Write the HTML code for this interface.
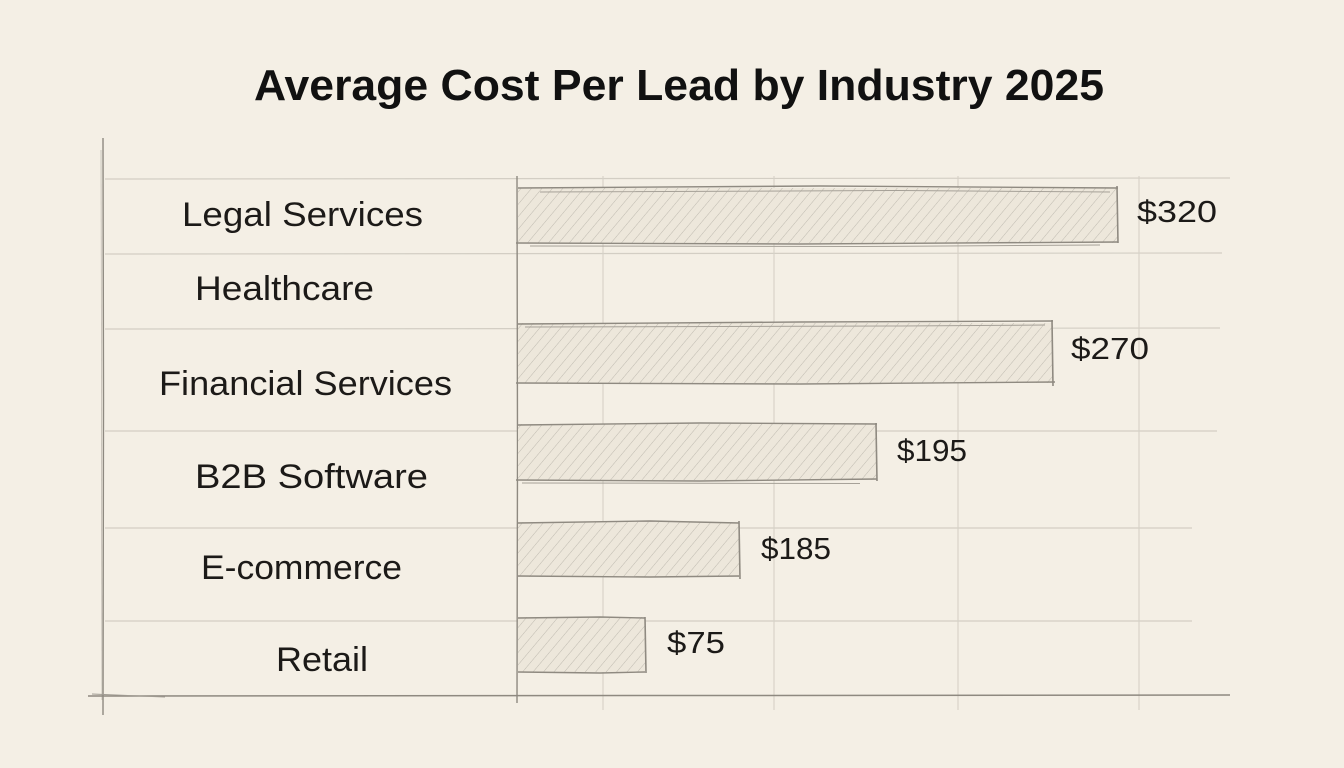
<!DOCTYPE html>
<html>
<head>
<meta charset="utf-8">
<style>
html,body{margin:0;padding:0;background:#f4efe5;}
svg{display:block;}
</style>
</head>
<body>
<svg width="1344" height="768" viewBox="0 0 1344 768" xmlns="http://www.w3.org/2000/svg">
<defs>
<pattern id="hatch" patternUnits="userSpaceOnUse" width="8" height="8" patternTransform="rotate(40)">
<line x1="0" y1="0" x2="0" y2="8" stroke="#b9b4aa" stroke-width="0.9"/>
</pattern>
</defs>
<rect x="0" y="0" width="1344" height="768" fill="#f4efe5"/>

<!-- title -->
<text x="254" y="100" font-family="Liberation Sans, sans-serif" font-weight="bold" font-size="44" fill="#111" textLength="850" lengthAdjust="spacingAndGlyphs">Average Cost Per Lead by Industry 2025</text>

<!-- horizontal gridlines -->
<g stroke="#d3cec4" stroke-width="1.2" fill="none">
<line x1="105" y1="179" x2="1230" y2="178"/>
<line x1="105" y1="254" x2="1222" y2="253"/>
<line x1="105" y1="329" x2="1220" y2="328"/>
<line x1="105" y1="431" x2="1217" y2="431"/>
<line x1="105" y1="528" x2="1192" y2="528"/>
<line x1="105" y1="621" x2="1192" y2="621"/>
</g>
<!-- vertical gridlines -->
<g stroke="#d6d1c7" stroke-width="1.1" fill="none">
<line x1="603" y1="176" x2="603" y2="710"/>
<line x1="774" y1="176" x2="774" y2="710"/>
<line x1="958" y1="176" x2="958" y2="710"/>
<line x1="1139" y1="176" x2="1139" y2="710"/>
</g>

<!-- axes -->
<g stroke="#8e8980" fill="none">
<path d="M103 138 L103.5 400 L103 715" stroke-width="1.4"/>
<path d="M101 150 L102 700" stroke-width="0.6" stroke="#b0aba2"/>
<path d="M517 176 L517.5 450 L517 703" stroke-width="1.4"/>
<path d="M88 696 L700 695.5 L1230 695" stroke-width="1.5"/>
<path d="M92 694 L165 697" stroke-width="1" stroke="#a09b92"/>
</g>

<!-- bars -->
<g>
<rect x="518" y="188" width="600" height="55" fill="#ede7db"/>
<rect x="518" y="188" width="600" height="55" fill="url(#hatch)"/>
<rect x="518" y="323" width="535" height="60" fill="#ede7db"/>
<rect x="518" y="323" width="535" height="60" fill="url(#hatch)"/>
<rect x="518" y="424" width="358" height="56" fill="#ede7db"/>
<rect x="518" y="424" width="358" height="56" fill="url(#hatch)"/>
<rect x="518" y="522" width="221" height="55" fill="#ede7db"/>
<rect x="518" y="522" width="221" height="55" fill="url(#hatch)"/>
<rect x="518" y="617" width="127" height="55" fill="#ede7db"/>
<rect x="518" y="617" width="127" height="55" fill="url(#hatch)"/>
</g>
<g stroke="#8f8a81" fill="none" stroke-width="1.4">
<!-- bar1 -->
<path d="M518 188 L820 186 L1118 188"/>
<path d="M540 192 L900 190.5 L1110 192" stroke-width="1" stroke="#a6a198"/>
<path d="M516 243 L800 244 L1118 242"/>
<path d="M530 246 L860 246.5 L1100 245" stroke-width="1" stroke="#a6a198"/>
<path d="M1117 186 L1118 243" stroke-width="1.6"/>
<!-- bar2 -->
<path d="M518 324 L800 322 L1053 321"/>
<path d="M525 327 L900 326 L1045 325" stroke-width="1" stroke="#a6a198"/>
<path d="M516 383 L800 384 L1055 382"/>
<path d="M1052 320 L1053 386" stroke-width="1.6"/>
<!-- bar3 -->
<path d="M518 425 L700 423 L877 424"/>
<path d="M516 480 L700 481 L877 479"/>
<path d="M522 483 L860 483.5" stroke-width="1" stroke="#a6a198"/>
<path d="M876 423 L877 481" stroke-width="1.6"/>
<!-- bar4 -->
<path d="M518 523 L650 521 L739 523"/>
<path d="M518 576 L650 577 L739 576"/>
<path d="M739 521 L740 579" stroke-width="1.6"/>
<!-- bar5 -->
<path d="M518 618 L600 617 L645 618"/>
<path d="M518 672 L600 673 L645 672"/>
<path d="M645 617 L646 673" stroke-width="1.6"/>
</g>

<!-- category labels -->
<g font-family="Liberation Sans, sans-serif" font-size="34" fill="#1c1a18">
<text x="182" y="226" textLength="241" lengthAdjust="spacingAndGlyphs">Legal Services</text>
<text x="195" y="300" textLength="179" lengthAdjust="spacingAndGlyphs">Healthcare</text>
<text x="159" y="395" textLength="293" lengthAdjust="spacingAndGlyphs">Financial Services</text>
<text x="195" y="488" textLength="233" lengthAdjust="spacingAndGlyphs">B2B Software</text>
<text x="201" y="579" textLength="201" lengthAdjust="spacingAndGlyphs">E-commerce</text>
<text x="276" y="671" textLength="92" lengthAdjust="spacingAndGlyphs">Retail</text>
</g>

<!-- value labels -->
<g font-family="Liberation Sans, sans-serif" font-size="31" fill="#1c1a18">
<text x="1137" y="222" textLength="80" lengthAdjust="spacingAndGlyphs">$320</text>
<text x="1071" y="359" textLength="78" lengthAdjust="spacingAndGlyphs">$270</text>
<text x="897" y="461" textLength="70" lengthAdjust="spacingAndGlyphs">$195</text>
<text x="761" y="559" textLength="70" lengthAdjust="spacingAndGlyphs">$185</text>
<text x="667" y="653" textLength="58" lengthAdjust="spacingAndGlyphs">$75</text>
</g>
</svg>
</body>
</html>
